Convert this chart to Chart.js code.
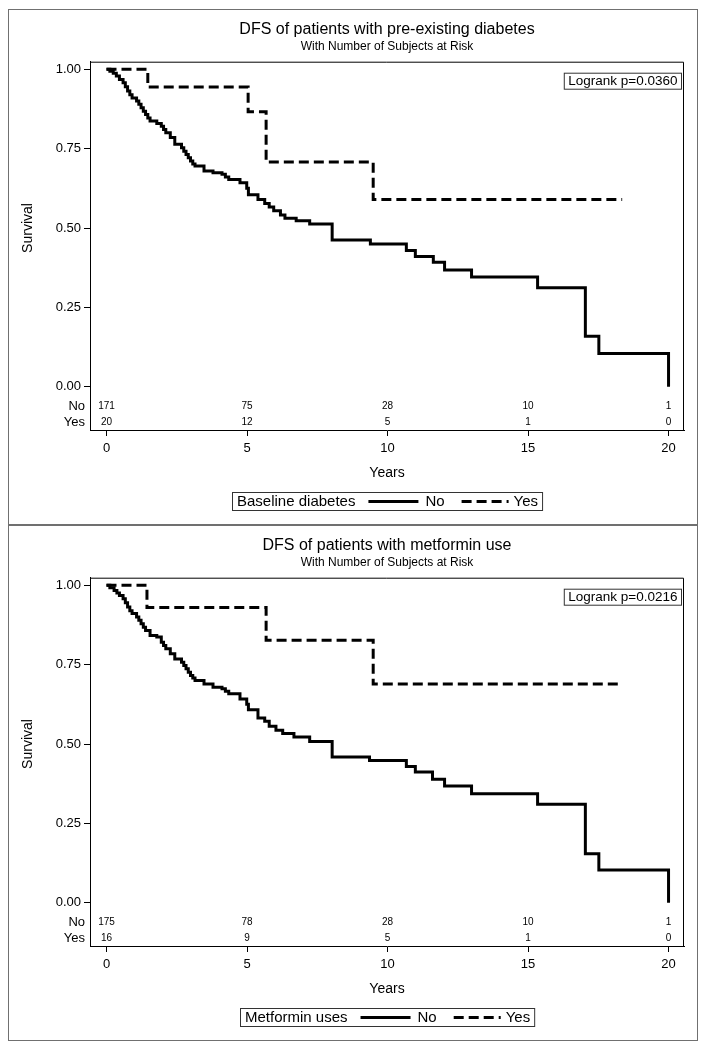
<!DOCTYPE html>
<html>
<head>
<meta charset="utf-8">
<script src="https://cdn.jsdelivr.net/npm/chart.js@4.4.1/dist/chart.umd.min.js"></script>
<style>
body { margin: 0; background: #fff; }
.panel { position: absolute; left: 8px; width: 688px; height: 514px; border: 1px solid #707070; }
#p1 { top: 9px; }
#p2 { top: 525px; }
canvas { display: block; }
</style>
</head>
<body>
<div class="panel" id="p1"><canvas id="c1" width="688" height="514"></canvas></div>
<div class="panel" id="p2"><canvas id="c2" width="688" height="514"></canvas></div>
<script>
// tick values
const xTicks = [0, 5, 10, 15, 20];
const yTicks = [0, 0.25, 0.5, 0.75, 1];
const riskTimes = [0, 5, 10, 15, 20];

// panel 1: baseline diabetes
const diabNoT = [0, 0.12, 0.24, 0.35, 0.46, 0.59, 0.67, 0.75, 0.83, 0.91, 1.07, 1.15, 1.23, 1.31, 1.39, 1.47, 1.55, 1.79, 1.95, 2.03, 2.11, 2.27, 2.43, 2.67, 2.75, 2.83, 2.91, 2.99, 3.07, 3.15, 3.47, 3.79, 4.11, 4.23, 4.35, 4.75, 4.99, 5.05, 5.39, 5.63, 5.79, 5.95, 6.19, 6.35, 6.75, 7.23, 8.03, 9.39, 10.67, 10.99, 11.63, 12.03, 12.99, 15.34, 17.04, 17.52, 20];
const diabNoS = [1, 0.994, 0.988, 0.979, 0.968, 0.958, 0.945, 0.932, 0.92, 0.91, 0.9, 0.89, 0.879, 0.868, 0.858, 0.847, 0.837, 0.829, 0.821, 0.81, 0.8, 0.785, 0.764, 0.753, 0.742, 0.732, 0.721, 0.711, 0.702, 0.695, 0.68, 0.674, 0.669, 0.661, 0.653, 0.643, 0.625, 0.605, 0.59, 0.577, 0.566, 0.554, 0.541, 0.531, 0.523, 0.513, 0.462, 0.45, 0.429, 0.41, 0.392, 0.368, 0.346, 0.312, 0.159, 0.105, 0];
const diabYesT = [0, 1.47, 5.04, 5.68, 9.49, 18.35];
const diabYesS = [1, 0.944, 0.866, 0.708, 0.59, 0.59];
const diabRiskNo = [171, 75, 28, 10, 1];
const diabRiskYes = [20, 12, 5, 1, 0];

// panel 2: metformin use
const metNoT = [0, 0.12, 0.27, 0.37, 0.46, 0.59, 0.67, 0.75, 0.83, 0.91, 1.07, 1.15, 1.23, 1.31, 1.39, 1.55, 1.79, 1.95, 2.03, 2.11, 2.27, 2.43, 2.67, 2.75, 2.83, 2.91, 2.99, 3.07, 3.15, 3.47, 3.79, 4.11, 4.23, 4.35, 4.75, 4.99, 5.05, 5.39, 5.63, 5.79, 6.03, 6.27, 6.67, 7.23, 8.03, 9.36, 10.67, 10.99, 11.6, 12.03, 12.99, 15.34, 17.04, 17.52, 20];
const metNoS = [1, 0.992, 0.984, 0.976, 0.968, 0.958, 0.945, 0.932, 0.92, 0.911, 0.9, 0.89, 0.879, 0.868, 0.858, 0.842, 0.837, 0.821, 0.81, 0.8, 0.784, 0.768, 0.758, 0.747, 0.737, 0.726, 0.716, 0.708, 0.7, 0.689, 0.679, 0.674, 0.666, 0.658, 0.642, 0.625, 0.608, 0.582, 0.572, 0.556, 0.543, 0.533, 0.522, 0.508, 0.459, 0.448, 0.429, 0.412, 0.389, 0.368, 0.343, 0.31, 0.154, 0.103, 0];
const metYesT = [0, 1.44, 5.68, 9.49, 18.35];
const metYesS = [1, 0.93, 0.827, 0.689, 0.689];
const metRiskNo = [175, 78, 28, 10, 1];
const metRiskYes = [16, 9, 5, 1, 0];

const FONT = "'Liberation Sans', Arial, sans-serif";
Chart.defaults.font.family = FONT;
Chart.defaults.color = '#000';

function kmPoints(ts, ss) {
  return ts.map((t, i) => ({ x: t, y: ss[i] }));
}

// frame, y title, risk table, logrank box and legend box
const kmExtras = {
  id: 'kmExtras',
  afterDraw(chart, args, o) {
    const { ctx, chartArea: a, scales: { x, y } } = chart;
    ctx.save();
    ctx.strokeStyle = '#000';
    ctx.lineWidth = 1;
    ctx.beginPath();
    ctx.moveTo(a.left, a.top + 0.5);
    ctx.lineTo(a.right - 0.5, a.top + 0.5);
    ctx.lineTo(a.right - 0.5, a.bottom);
    ctx.stroke();

    ctx.fillStyle = '#000';
    // y title, centred on the 0..1 range
    ctx.save();
    ctx.translate(19, (y.getPixelForValue(0) + y.getPixelForValue(1)) / 2);
    ctx.rotate(-Math.PI / 2);
    ctx.font = '14px ' + FONT;
    ctx.textAlign = 'center';
    ctx.textBaseline = 'middle';
    ctx.fillText('Survival', 0, 0);
    ctx.restore();

    // numbers at risk
    const y0 = y.getPixelForValue(0);
    const rows = [['No', o.riskNo, y0 + 20], ['Yes', o.riskYes, y0 + 36]];
    ctx.textBaseline = 'middle';
    for (const [lab, vals, ry] of rows) {
      ctx.font = '13px ' + FONT;
      ctx.textAlign = 'right';
      ctx.fillText(lab, a.left - 5, ry);
      ctx.font = '10px ' + FONT;
      ctx.textAlign = 'center';
      vals.forEach((v, i) => ctx.fillText(String(v), x.getPixelForValue(riskTimes[i]), ry));
    }

    // logrank box
    ctx.font = '13.5px ' + FONT;
    const lw = ctx.measureText(o.logrank).width;
    const bx1 = a.right - 3, bx0 = bx1 - lw - 8, by0 = a.top + 11;
    ctx.strokeStyle = '#333';
    ctx.strokeRect(bx0 + 0.5, by0 + 0.5, bx1 - bx0, 16);
    ctx.textAlign = 'left';
    ctx.fillText(o.logrank, bx0 + 4.5, by0 + 9);

    // legend box
    ctx.font = '15px ' + FONT;
    const wT = ctx.measureText(o.legendTitle).width;
    const wNo = ctx.measureText('No').width;
    const wYes = ctx.measureText('Yes').width;
    const total = 5 + wT + 13 + 50 + 7 + wNo + 17 + 47 + 5 + wYes + 4;
    let lx = Math.round((a.left + a.right) / 2 - total / 2);
    const ly = a.bottom + 62, lh = 18, lm = ly + lh / 2 + 0.5;
    ctx.strokeStyle = '#333';
    ctx.lineWidth = 1;
    ctx.strokeRect(lx + 0.5, ly + 0.5, total, lh);
    let cx = lx + 5;
    ctx.fillText(o.legendTitle, cx, lm);
    cx += wT + 13;
    ctx.strokeStyle = '#000';
    ctx.lineWidth = 3;
    ctx.beginPath();
    ctx.moveTo(cx, lm);
    ctx.lineTo(cx + 50, lm);
    ctx.stroke();
    cx += 57;
    ctx.fillText('No', cx, lm);
    cx += wNo + 17;
    ctx.setLineDash([10, 5]);
    ctx.beginPath();
    ctx.moveTo(cx, lm);
    ctx.lineTo(cx + 47, lm);
    ctx.stroke();
    ctx.setLineDash([]);
    cx += 52;
    ctx.fillText('Yes', cx, lm);
    ctx.restore();
  }
};

function makeChart(id, s) {
  return new Chart(document.getElementById(id), {
    type: 'line',
    data: {
      datasets: [
        { label: 'No', data: kmPoints(s.noT, s.noS), borderColor: '#000', borderWidth: 3, stepped: true, pointRadius: 0, fill: false },
        { label: 'Yes', data: kmPoints(s.yesT, s.yesS), borderColor: '#000', borderWidth: 3, borderDash: [10, 5], stepped: true, pointRadius: 0, fill: false }
      ]
    },
    options: {
      responsive: false,
      animation: false,
      devicePixelRatio: 1,
      layout: { padding: { left: 0, right: 13, top: 0, bottom: 34 } },
      plugins: {
        legend: { display: false },
        tooltip: { enabled: false },
        title: { display: true, text: s.title, fullSize: false, color: '#000', font: { size: 16, weight: 'normal' }, padding: { top: 10.4, bottom: 0 } },
        subtitle: { display: true, text: 'With Number of Subjects at Risk', fullSize: false, color: '#000', font: { size: 12 }, padding: { top: 0, bottom: 7.7 } },
        kmExtras: { riskNo: s.riskNo, riskYes: s.riskYes, logrank: s.logrank, legendTitle: s.legendTitle }
      },
      scales: {
        x: {
          type: 'linear', min: -0.587, max: 20.55,
          afterBuildTicks: sc => { sc.ticks = xTicks.map(v => ({ value: v })); },
          afterFit: sc => { sc.height = 60; },
          ticks: { font: { size: 13 }, color: '#000', padding: 5 },
          grid: { drawOnChartArea: false, tickLength: 6, color: '#000' },
          border: { color: '#000' },
          title: { display: true, text: 'Years', color: '#000', font: { size: 14 }, padding: { top: 0, bottom: 8.6 } }
        },
        y: {
          min: -0.1364, max: 1.024,
          afterBuildTicks: sc => { sc.ticks = yTicks.map(v => ({ value: v })); },
          afterFit: sc => { sc.width = 81; },
          ticks: { font: { size: 13 }, color: '#000', padding: 3, callback: v => Number(v).toFixed(2) },
          grid: { drawOnChartArea: false, tickLength: 6, color: '#000' },
          border: { color: '#000' }
        }
      }
    },
    plugins: [kmExtras]
  });
}

makeChart('c1', {
  title: 'DFS of patients with pre-existing diabetes',
  noT: diabNoT, noS: diabNoS, yesT: diabYesT, yesS: diabYesS,
  riskNo: diabRiskNo, riskYes: diabRiskYes,
  logrank: 'Logrank p=0.0360', legendTitle: 'Baseline diabetes'
});
makeChart('c2', {
  title: 'DFS of patients with metformin use',
  noT: metNoT, noS: metNoS, yesT: metYesT, yesS: metYesS,
  riskNo: metRiskNo, riskYes: metRiskYes,
  logrank: 'Logrank p=0.0216', legendTitle: 'Metformin uses'
});
</script>
</body>
</html>
